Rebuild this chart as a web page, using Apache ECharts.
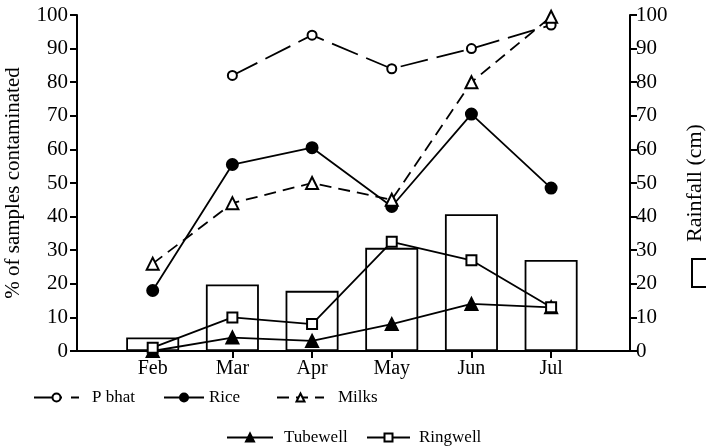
<!DOCTYPE html>
<html>
<head>
<meta charset="utf-8">
<script src="https://cdn.jsdelivr.net/npm/echarts@6/dist/echarts.min.js"></script>
<style>html,body{margin:0;padding:0;background:#fff}#c{width:706px;height:448px}</style>
</head>
<body>
<div id="c"></div>
<script>
const months = ['Feb', 'Mar', 'Apr', 'May', 'Jun', 'Jul'];
const monthNum = [2, 3, 4, 5, 6, 7];
const pBhat = [null, 82, 94, 84, 90, 97];
const rice = [18, 55.5, 60.5, 43, 70.5, 48.5];
const milks = [26, 44, 50, 45, 80, 99.5];
const tubewell = [0, 4, 3, 8, 14, 13];
const ringwell = [1, 10, 8, 32.5, 27, 13];
const rainfall = [4, 19.8, 17.9, 30.7, 40.7, 27.1];

const FONT = 'Liberation Serif';
const pairs = arr => arr.map((v, i) => [monthNum[i], v]).filter(p => p[1] !== null);

const chart = echarts.init(document.getElementById('c'), null, {renderer: 'canvas'});
const axisLineStyle = {color: '#000', width: 2};
const lineSeries = (name, data, symbol, size, dash) => ({
  name, type: 'line', yAxisIndex: 0, data: pairs(data),
  symbol, symbolSize: size, showSymbol: true,
  lineStyle: {color: '#000', width: 1.8, type: dash},
  itemStyle: {color: '#000', borderColor: '#000', borderWidth: 2},
  z: 5, animation: false
});
const legendBase = (name, left, top, w, gap) => ({
  data: [name], left, top, padding: 0, itemWidth: w, itemHeight: 10,
  selectedMode: false,
  textStyle: {fontFamily: FONT, fontSize: 17, color: '#000', padding: [0, 0, 0, gap]}
});

chart.setOption({
  animation: false,
  backgroundColor: '#fff',
  grid: {left: 77, right: 76, top: 15, bottom: 97, containLabel: false, outerBoundsMode: 'none'},
  xAxis: {
    type: 'value', min: 1.05, max: 7.99,
    axisLine: {show: true, lineStyle: axisLineStyle},
    axisTick: {show: true, customValues: monthNum, length: 7, lineStyle: {color: '#000', width: 2}},
    axisLabel: {customValues: monthNum, formatter: v => months[monthNum.indexOf(v)],
      fontFamily: FONT, fontSize: 20, color: '#000', margin: 8},
    splitLine: {show: false}
  },
  yAxis: [{
    type: 'value', min: 0, max: 100, interval: 10, position: 'left',
    name: '% of samples contaminated', nameLocation: 'middle', nameGap: 53, nameRotate: 90,
    nameTextStyle: {fontFamily: FONT, fontSize: 21, color: '#000'},
    axisLine: {show: true, lineStyle: axisLineStyle},
    axisTick: {show: true, length: 7, lineStyle: {color: '#000', width: 2}},
    axisLabel: {fontFamily: FONT, fontSize: 21, color: '#000', margin: 9},
    splitLine: {show: false}
  }, {
    type: 'value', min: 0, max: 100, interval: 10, position: 'right',
    name: 'Rainfall (cm)', nameLocation: 'middle', nameGap: 54, nameRotate: 90,
    nameTextStyle: {fontFamily: FONT, fontSize: 22, color: '#000'},
    axisLine: {show: true, lineStyle: axisLineStyle},
    axisTick: {show: true, length: 7, lineStyle: {color: '#000', width: 2}},
    axisLabel: {fontFamily: FONT, fontSize: 21, color: '#000', margin: 6},
    splitLine: {show: false}
  }],
  legend: [
    legendBase('P bhat', 33, 389, 45, 8),
    legendBase('Rice', 163, 389, 40, 0),
    legendBase('Milks', 276, 389, 47, 9),
    legendBase('Tubewell', 226, 429, 46, 6),
    legendBase('Ringwell', 366, 429, 43, 4),
    {data: ['Rainfall (cm)'], left: 691, top: 258, padding: 0, itemWidth: 16, itemHeight: 28,
     selectedMode: false, icon: 'rect', formatter: () => '', textStyle: {fontSize: 1}}
  ],
  series: [
    {name: 'Rainfall (cm)', type: 'bar', yAxisIndex: 1, data: pairs(rainfall), barWidth: 53,
     itemStyle: {color: '#fff', borderColor: '#000', borderWidth: 1.8}, z: 1},
    lineSeries('P bhat', pBhat, 'emptyCircle', 9, [28, 9]),
    lineSeries('Rice', rice, 'circle', 11, 'solid'),
    lineSeries('Milks', milks, 'emptyTriangle', 12, [12, 7]),
    lineSeries('Tubewell', tubewell, 'triangle', 12, 'solid'),
    lineSeries('Ringwell', ringwell, 'emptyRect', 10, 'solid')
  ]
});
</script>
</body>
</html>
